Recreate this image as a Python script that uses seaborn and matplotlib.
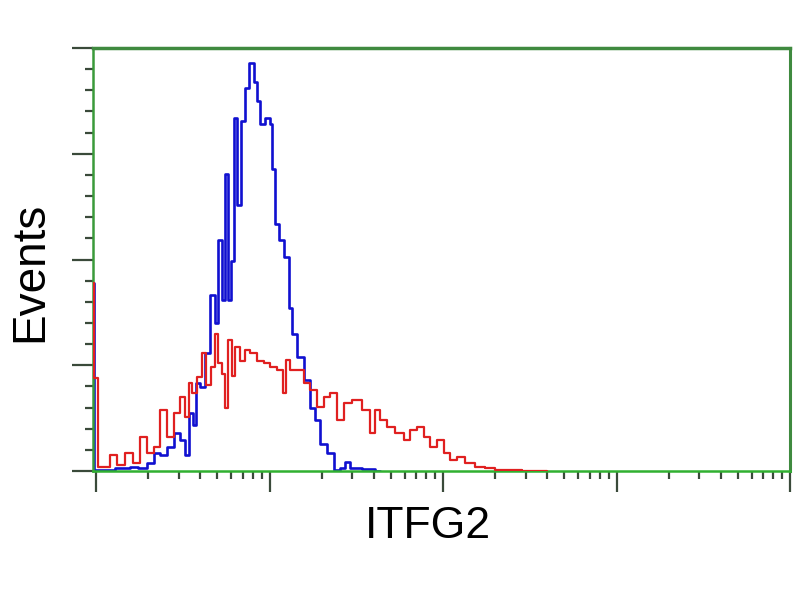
import matplotlib
matplotlib.use("Agg")
import matplotlib.pyplot as plt
import matplotlib.ticker as mticker
import numpy as np
import pandas as pd
import seaborn as sns

# channel numbers (64 channels per decade) and event counts
blue_ch = [-1, -0.6, 1.5, 11.4, 13.6, 17.3, 19.9, 22.5, 24.7, 27.3, 29.9, 32.1, 33.6, 34.7,
           36.5, 37.3, 39.5, 40.9, 43.2, 44.4, 45.7, 47.2, 48.3, 49.4, 50.5, 51.3, 52.4,
           54.2, 55.7, 57.5, 58.7, 59.8, 61.2, 63.1, 64.9, 65.3, 66.8, 67.9, 70.5, 71.6,
           72.7, 75.3, 77.8, 79.7, 81.5, 83.7, 86.3, 88.9, 90.8, 92.6, 94.8, 101, 104.8]
blue_counts = [88.7, 0.5, 0.5, 1.4, 1.9, 1.4, 3.8, 8.5, 7.5, 11.3, 17.9, 14.6, 7.5, 27.4,
               21.7, 41.5, 39.6, 55.7, 83, 70, 109, 80.7, 140.6, 80.7, 99.5, 167, 126,
               165.6, 181, 193, 184, 175, 164, 167, 164, 143, 117, 109, 101, 77,
               65, 54, 43, 30, 24, 13, 8.5, 0.5, 1.4, 4.2, 1.4, 0.9, 0]

red_ch = [-1, -0.4, 0.2, 1.5, 4, 6.3, 8.9, 12.5, 15.1, 17.3, 19.9, 22.5, 24.7, 27.3, 29.9,
          32.1, 33.6, 34.7, 35.8, 38.4, 39.5, 41.3, 43.2, 44.6, 45.7, 46.9, 48.3, 49.4,
          50.9, 52, 53.9, 55.7, 57.9, 60.5, 63.1, 65.3, 67.9, 69.7, 70.5, 72.7, 75.3,
          77.8, 80.1, 82.6, 85.2, 87.4, 90, 92.6, 96.3, 100, 102.2, 103.7, 105.9, 108.5,
          112.1, 114.7, 116.9, 119.5, 122.1, 124.3, 126.9, 129.5, 131.7, 134.3, 138,
          141.7, 145.3, 149, 153.8, 160, 166.4]
red_counts = [88.7, 44, 44, 1.9, 1.9, 7.5, 2.8, 8.5, 3.8, 16, 8.5, 11.3, 28.8, 16, 27.4,
              34.9, 25.5, 41.5, 36.8, 44.3, 55.7, 40.6, 49, 65, 51, 46, 30, 62,
              45, 58.5, 52, 57, 55.7, 52, 51, 49, 47.6, 36.8, 52.4, 47.6, 47.6,
              41.5, 38.2, 30.2, 34.9, 36.8, 24, 32, 33.5, 28.8, 17.9, 28.8, 24, 20.8,
              17.9, 14.6, 19.3, 20.8, 16, 11.3, 14.6, 8.5, 5.2, 6.6, 3.8,
              1.9, 1.4, 0.5, 0.5, 0, 0]

blue = pd.DataFrame({"fl": 10 ** (np.array(blue_ch) / 64), "events": blue_counts})
red = pd.DataFrame({"fl": 10 ** (np.array(red_ch) / 64), "events": red_counts})

sns.set_style("white")
plt.rcParams["font.family"] = ["Liberation Sans", "DejaVu Sans"]
plt.rcParams["text.color"] = "black"

fig = plt.figure(figsize=(8, 6), dpi=100)
ax = fig.add_axes([93 / 800, 129 / 600, 697 / 800, 423 / 600])

sns.lineplot(data=blue, x="fl", y="events", color="#1010d0", linewidth=1.9,
             drawstyle="steps-mid", sort=False, estimator=None, ax=ax, zorder=2)
sns.lineplot(data=red, x="fl", y="events", color="#e02020", linewidth=1.6,
             drawstyle="steps-mid", sort=False, estimator=None, ax=ax, zorder=3)

ax.set_xscale("log")
ax.set_xlim(10 ** (-3 / 173.5), 10 ** 4)
ax.set_ylim(0, 200)

ax.xaxis.set_major_locator(mticker.LogLocator(base=10, numticks=10))
ax.xaxis.set_minor_locator(mticker.LogLocator(base=10, subs=np.arange(2, 10), numticks=20))
ax.xaxis.set_major_formatter(mticker.NullFormatter())
ax.xaxis.set_minor_formatter(mticker.NullFormatter())
ax.yaxis.set_major_locator(mticker.MultipleLocator(50))
ax.yaxis.set_minor_locator(mticker.MultipleLocator(10))
ax.yaxis.set_major_formatter(mticker.NullFormatter())

ax.tick_params(which="major", direction="out", length=15, width=1.6, color="#3a4a3a",
               left=True, bottom=True)
ax.tick_params(which="minor", direction="out", length=6, width=1.6, color="#3a4a3a",
               left=True, bottom=True)

ax.spines["top"].set_color("#3f8a3f")
ax.spines["top"].set_linewidth(2.5)
ax.spines["right"].set_color("#3f8a3f")
ax.spines["right"].set_linewidth(2.2)
ax.spines["left"].set_color("#3a9a3a")
ax.spines["left"].set_linewidth(1.8)
ax.spines["bottom"].set_color("#30b030")
ax.spines["bottom"].set_linewidth(1.8)

ax.set_xlabel("")
ax.set_ylabel("")
fig.text(428 / 800, 1 - 527 / 600, "ITFG2", fontsize=32, ha="center", va="center",
         color="black")
fig.text(30 / 800, 1 - 272 / 600, "Events", fontsize=33, rotation=90,
         ha="center", va="center", color="black")

fig.savefig("out.png", dpi=100)
